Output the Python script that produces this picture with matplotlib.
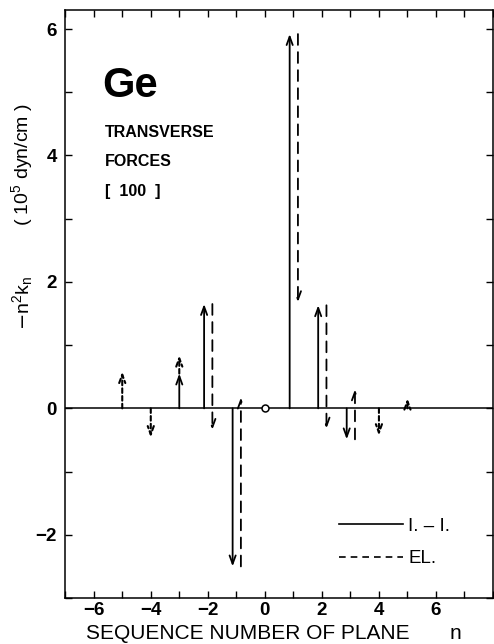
import numpy as np
import matplotlib
matplotlib.use('Agg')
import matplotlib.pyplot as plt
from matplotlib.lines import Line2D
from matplotlib.ticker import MultipleLocator

plt.rcParams['font.family'] = ['Liberation Sans', 'DejaVu Sans']

# I.-I. contributions (solid arrows from 0)
n_ii = [-3, -2, -1, 1, 2, 3]
k_ii = [0.55, 1.65, -2.50, 5.92, 1.63, -0.49]

# EL. contributions (dashed arrows, start at tip of solid arrow)
n_el = [-2, -1, 1, 2, 3]
el_end = [-0.34, 0.17, 1.68, -0.32, 0.30]

# small EL. arrows (dotted)
n_dot = [-5, -4, -3, 4, 5]
dot_start = [0.0, 0.0, 0.55, 0.0, 0.0]
dot_end = [0.58, -0.46, 0.84, -0.43, 0.16]

x_labels = [-6, -4, -2, 0, 2, 4, 6]
y_labels = [-2, 0, 2, 4, 6]

OFF_II = -0.13
OFF_EL = 0.16

fig = plt.figure(figsize=(4.94, 6.44), dpi=100)
ax = fig.add_axes([0.132, 0.0714, 0.866, 0.913])
ax.set_xlim(-7, 8)
ax.set_ylim(-3, 6.3)

ax.axhline(0, color='black', lw=1.1, zorder=1)
ax.plot([0], [0], 'o', ms=5, mfc='white', mec='black', mew=1.1, zorder=3)


def arrow(x, y0, y1, ls, lw=1.3):
    ax.annotate('', xy=(x, y1), xytext=(x, y0),
                arrowprops=dict(arrowstyle='->,head_length=0.6,head_width=0.22',
                                lw=lw, linestyle=ls, color='black',
                                shrinkA=0, shrinkB=0))


start = dict(zip(n_ii, k_ii))
for n, k in zip(n_ii, k_ii):
    arrow(n + (OFF_II if n != -3 else 0), 0, k, '-')
for n, e in zip(n_el, el_end):
    arrow(n + OFF_EL, start[n], e, (0, (6, 4)))
for n, s, e in zip(n_dot, dot_start, dot_end):
    arrow(n, s, e, (0, (2.2, 1.5)), lw=1.5)

# ticks
ax.xaxis.set_minor_locator(MultipleLocator(1))
ax.yaxis.set_minor_locator(MultipleLocator(1))
ax.set_xticks(x_labels)
ax.set_yticks(y_labels)
ax.tick_params(which='both', direction='in', top=True, right=True,
               length=5, width=1, labelsize=13.5)
ax.tick_params(axis='x', pad=3)
ax.tick_params(axis='y', pad=6)
for lab in ax.get_xticklabels() + ax.get_yticklabels():
    lab.set_fontweight('bold')
for sp in ax.spines.values():
    sp.set_linewidth(1.1)

# annotations
ax.text(-5.7, 5.1, 'Ge', fontsize=30, fontweight='bold', va='center', ha='left')
ax.text(-5.6, 3.9, 'TRANSVERSE\nFORCES\n[  100  ]', fontsize=11.5,
        fontweight='bold', va='center', ha='left', linespacing=2.2)

handles = [Line2D([], [], color='black', lw=1.2, ls='-'),
           Line2D([], [], color='black', lw=1.2, ls=(0, (4, 3)))]
ax.legend(handles, ['I. \u2013 I.', 'EL.'], loc='upper left',
          bbox_to_anchor=(0.60, 0.165), frameon=False, fontsize=13.5,
          handlelength=3.4, handletextpad=0.3, labelspacing=0.8)

fig.text(0.045, 0.53, r'$-\mathregular{n^2k_n}$', rotation=90, fontsize=14,
         ha='center', va='center')
fig.text(0.045, 0.745, '( 10$^{\\mathregular{5}}$ dyn/cm )', rotation=90,
         fontsize=14, ha='center', va='center')
fig.text(0.502, 0.017, 'SEQUENCE NUMBER OF PLANE', fontsize=15,
         ha='center', va='center')
fig.text(0.921, 0.017, 'n', fontsize=15, ha='center', va='center')

fig.savefig('out.png', dpi=100)
